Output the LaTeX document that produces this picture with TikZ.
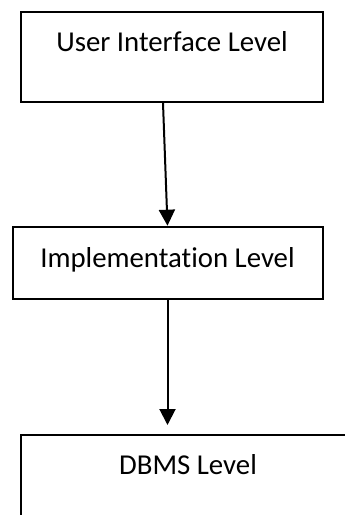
\documentclass[tikz,border=0pt]{standalone}
\usepackage{fontspec}
\setmainfont[Ligatures=NoCommon]{Carlito}
\usetikzlibrary{arrows.meta}
\begin{document}
\begin{tikzpicture}[x=1pt,y=-1pt,
  levelbox/.style={draw=black,line width=2pt,anchor=north west,inner sep=0pt,
    font=\fontsize{28.8}{34}\selectfont},
  flow/.style={draw=black,line width=2pt,-{Triangle[width=16pt,length=16pt]}}]
\useasboundingbox (0,0) rectangle (345,515);
\clip (0,0) rectangle (345,515);
\node[levelbox,minimum width=302pt,text height=39.7pt,text depth=50.3pt] (b1) at (20,11) {User Interface Level};
\node[levelbox,minimum width=310pt,text height=41pt,text depth=31.6pt] (b2) at (11.5,225.7) {Implementation Level};
\node[levelbox,minimum width=334pt,text height=39.5pt,text depth=50.5pt] (b3) at (20,434) {DBMS Level};
\draw[flow] ([xshift=-9pt]b1.south) -- (b2.north);
\draw[flow,shorten >=9pt] (b2.south) -- (b2.south |- b3.north);
\end{tikzpicture}
\end{document}
